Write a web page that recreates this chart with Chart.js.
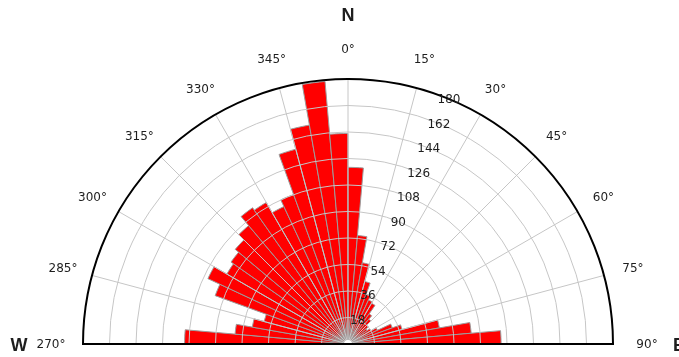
<!DOCTYPE html>
<html>
<head>
<meta charset="utf-8">
<script src="https://cdn.jsdelivr.net/npm/chart.js@4/dist/chart.umd.min.js"></script>
<style>
  html, body { margin: 0; padding: 0; background: #ffffff; overflow: hidden; }
  #wrap { width: 679px; height: 357px; position: relative; }
</style>
</head>
<body>
<div id="wrap"><canvas id="rose"></canvas></div>
<script>
// Start of each 5-degree direction bin, clockwise from west through north to east
const binStarts = [270, 275, 280, 285, 290, 295, 300, 305, 310, 315, 320, 325, 330, 335, 340, 345, 350, 355,
                   0, 5, 10, 15, 20, 25, 30, 35, 40, 45, 50, 55, 60, 65, 70, 75, 80, 85];
// Count of observations in each bin
const counts = [111, 77, 66, 59, 96, 105, 95, 97, 100, 105, 113, 111, 103, 108, 137, 151, 179, 143,
                120, 74, 56, 44, 36, 33, 32, 25, 22, 18, 16, 18, 22, 32, 38, 63, 84, 104];
// Radial tick values (outer ring is the maximum)
const radialTicks = [18, 36, 54, 72, 90, 108, 126, 144, 162, 180];
// Direction labels around the rim
const directionTicks = [270, 285, 300, 315, 330, 345, 0, 15, 30, 45, 60, 75, 90];
// Compass letters
const compassLetters = ['W', 'N', 'E'];

const BIN_WIDTH = 5;
const RADIAL_MAX = 180;
const LAYOUT = { cx: 348, cy: 344, radius: 265 };

const toCanvasAngle = deg => {
  const t = deg > 180 ? deg - 360 : deg;   // signed degrees from north
  return (t - 90) * Math.PI / 180;
};

// Place the half-rose with its centre on the base line
const geometry = {
  id: 'geometry',
  afterLayout(chart) {
    const s = chart.scales.r;
    s.xCenter = LAYOUT.cx;
    s.yCenter = LAYOUT.cy;
    s.drawingArea = LAYOUT.radius;
  }
};

// Rings, spokes, rim and labels drawn over the bars
const roseFrame = {
  id: 'roseFrame',
  afterDatasetsDraw(chart) {
    const ctx = chart.ctx;
    const s = chart.scales.r;
    const cx = s.xCenter, cy = s.yCenter;
    const outer = s.getDistanceFromCenterForValue(RADIAL_MAX);
    ctx.save();

    // concentric half rings
    ctx.strokeStyle = '#c6c6c6';
    ctx.lineWidth = 1;
    radialTicks.forEach(v => {
      if (v >= RADIAL_MAX) return;
      ctx.beginPath();
      ctx.arc(cx, cy, s.getDistanceFromCenterForValue(v), Math.PI, 2 * Math.PI);
      ctx.stroke();
    });

    // spokes every 15 degrees
    for (let d = -75; d <= 75; d += 15) {
      const a = (d - 90) * Math.PI / 180;
      ctx.beginPath();
      ctx.moveTo(cx, cy);
      ctx.lineTo(cx + outer * Math.cos(a), cy + outer * Math.sin(a));
      ctx.stroke();
    }

    // small white hub
    ctx.fillStyle = '#ffffff';
    ctx.beginPath();
    ctx.arc(cx, cy, 4, Math.PI, 2 * Math.PI);
    ctx.fill();

    // rim and base line
    ctx.strokeStyle = '#000000';
    ctx.lineWidth = 2;
    ctx.beginPath();
    ctx.arc(cx, cy, outer, Math.PI, 2 * Math.PI);
    ctx.stroke();
    ctx.beginPath();
    ctx.moveTo(cx - outer - 1, cy);
    ctx.lineTo(cx + outer + 1, cy);
    ctx.stroke();

    // radial tick labels along the 22.5 degree line
    ctx.fillStyle = '#1e1e1e';
    ctx.font = '12px "DejaVu Sans", sans-serif';
    ctx.textAlign = 'center';
    ctx.textBaseline = 'middle';
    const la = (22.5 - 90) * Math.PI / 180;
    radialTicks.forEach(v => {
      const r = s.getDistanceFromCenterForValue(v) - 1;
      ctx.fillText(String(v), cx + r * Math.cos(la), cy + r * Math.sin(la));
    });

    // direction labels
    const labR = outer + 30;
    directionTicks.forEach(deg => {
      const a = toCanvasAngle(deg);
      let x = cx + labR * Math.cos(a), y = cy + labR * Math.sin(a);
      if (deg === 270) x -= 2;
      if (deg === 90) x += 4;
      ctx.fillText(deg + '\u00B0', x, y + 1);
    });

    // compass letters: west, north, east
    ctx.font = 'bold 18px "Liberation Sans", sans-serif';
    ctx.fillText(compassLetters[0], 19, cy + 2);
    ctx.fillText(compassLetters[1], cx, cy - outer - 63);
    ctx.fillText(compassLetters[2], 679, cy + 2);
    ctx.restore();
  }
};

new Chart(document.getElementById('rose'), {
  type: 'polarArea',
  data: {
    labels: binStarts.map(d => d + '\u00B0'),
    datasets: [{
      data: counts,
      angle: BIN_WIDTH,
      backgroundColor: '#ff0000',
      borderColor: '#9c9c9c',
      borderWidth: 1
    }]
  },
  options: {
    responsive: true,
    maintainAspectRatio: false,
    animation: false,
    layout: { padding: 0 },
    plugins: { legend: { display: false }, tooltip: { enabled: false } },
    scales: {
      r: { display: false, min: 0, max: RADIAL_MAX, startAngle: -90 }
    }
  },
  plugins: [geometry, roseFrame]
});
</script>
</body>
</html>
